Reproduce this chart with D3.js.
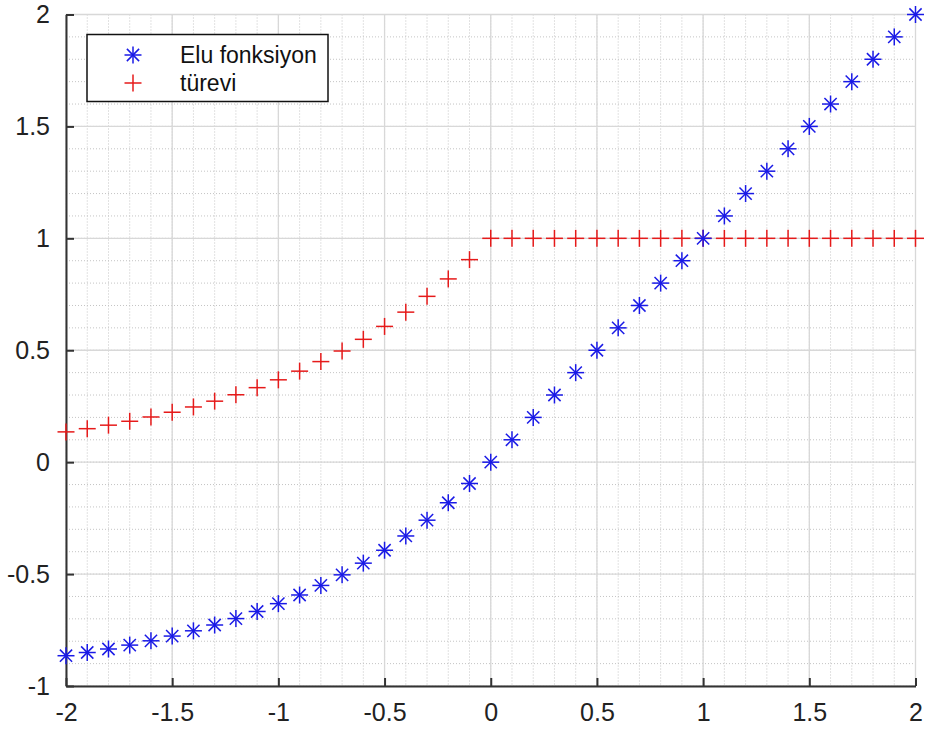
<!DOCTYPE html>
<html><head><meta charset="utf-8">
<script src="https://cdn.jsdelivr.net/npm/d3@7"></script>
<style>body{margin:0;background:#fff;}svg{display:block;}</style>
</head><body>
<svg id="chart" width="928" height="733"></svg>
<script>
const xValues = [-2,-1.9,-1.8,-1.7,-1.6,-1.5,-1.4,-1.3,-1.2,-1.1,-1,-0.9,-0.8,-0.7,-0.6,-0.5,-0.4,-0.3,-0.2,-0.1,0,0.1,0.2,0.3,0.4,0.5,0.6,0.7,0.8,0.9,1,1.1,1.2,1.3,1.4,1.5,1.6,1.7,1.8,1.9,2];
const eluValues = [-0.8647,-0.8504,-0.8347,-0.8173,-0.7981,-0.7769,-0.7534,-0.7275,-0.6988,-0.6671,-0.6321,-0.5934,-0.5507,-0.5034,-0.4512,-0.3935,-0.3297,-0.2592,-0.1813,-0.0952,0,0.1,0.2,0.3,0.4,0.5,0.6,0.7,0.8,0.9,1,1.1,1.2,1.3,1.4,1.5,1.6,1.7,1.8,1.9,2];
const derivValues = [0.1353,0.1496,0.1653,0.1827,0.2019,0.2231,0.2466,0.2725,0.3012,0.3329,0.3679,0.4066,0.4493,0.4966,0.5488,0.6065,0.6703,0.7408,0.8187,0.9048,1,1,1,1,1,1,1,1,1,1,1,1,1,1,1,1,1,1,1,1,1];
const xTicks = [-2,-1.5,-1,-0.5,0,0.5,1,1.5,2];
const yTicks = [-1,-0.5,0,0.5,1,1.5,2];
const seriesNames = ["Elu fonksiyon","türevi"];

const svg = d3.select("#chart");
const L = 66, R = 915.5, T = 14.5, B = 686;
const x = d3.scaleLinear().domain([-2,2]).range([L,R]);
const y = d3.scaleLinear().domain([-1,2]).range([B,T]);

const minorX = d3.range(-20,21).map(d=>d/10);
const minorY = d3.range(-10,21).map(d=>d/10);

const g = svg.append("g");
g.selectAll(".mx").data(minorX).join("line")
  .attr("x1",d=>x(d)).attr("x2",d=>x(d)).attr("y1",T).attr("y2",B)
  .attr("stroke","#c4c4c4").attr("stroke-width",1).attr("stroke-dasharray","1,2");
g.selectAll(".my").data(minorY).join("line")
  .attr("y1",d=>y(d)).attr("y2",d=>y(d)).attr("x1",L).attr("x2",R)
  .attr("stroke","#c4c4c4").attr("stroke-width",1).attr("stroke-dasharray","1,2");
g.selectAll(".Mx").data(xTicks).join("line")
  .attr("x1",d=>x(d)).attr("x2",d=>x(d)).attr("y1",T).attr("y2",B)
  .attr("stroke","#d8d8d8").attr("stroke-width",1.3);
g.selectAll(".My").data(yTicks).join("line")
  .attr("y1",d=>y(d)).attr("y2",d=>y(d)).attr("x1",L).attr("x2",R)
  .attr("stroke","#d8d8d8").attr("stroke-width",1.3);

const fmt = d=>d3.format("")(d).replace("−","-");
const xAxis = d3.axisBottom(x).tickValues(xTicks).tickSizeInner(-8).tickSizeOuter(0).tickPadding(17).tickFormat(fmt);
const yAxis = d3.axisLeft(y).tickValues(yTicks).tickSizeInner(-8).tickSizeOuter(0).tickPadding(16).tickFormat(fmt);
const gx = svg.append("g").attr("transform",`translate(0,${B})`).call(xAxis);
const gy = svg.append("g").attr("transform",`translate(${L},0)`).call(yAxis);
[gx,gy].forEach(a=>{
  a.attr("font-size",null).attr("font-family",null);
  a.select(".domain").attr("stroke","#333").attr("stroke-width",2);
  a.selectAll(".tick line").attr("stroke","#333").attr("stroke-width",2);
  a.selectAll("text").attr("fill","#222").attr("font-family","'Liberation Sans',Arial,sans-serif").attr("font-size","25px");
});
gx.selectAll("text").attr("dy","0.71em");

function asterisk(sel, r, color){
  sel.append("line").attr("x1",-r).attr("x2",r).attr("y1",0).attr("y2",0);
  sel.append("line").attr("x1",0).attr("x2",0).attr("y1",-r).attr("y2",r);
  const k = r*0.72;
  sel.append("line").attr("x1",-k).attr("x2",k).attr("y1",-k).attr("y2",k);
  sel.append("line").attr("x1",-k).attr("x2",k).attr("y1",k).attr("y2",-k);
  sel.attr("stroke",color).attr("stroke-width",1.5);
}
function plus(sel, r, color){
  sel.append("line").attr("x1",-r).attr("x2",r).attr("y1",0).attr("y2",0);
  sel.append("line").attr("x1",0).attr("x2",0).attr("y1",-r).attr("y2",r);
  sel.attr("stroke",color).attr("stroke-width",1.5);
}
const blue = "#1a1ae6", red = "#e61a1a";
const eluData = xValues.map((d,i)=>({x:d,y:eluValues[i]}));
const derData = xValues.map((d,i)=>({x:d,y:derivValues[i]}));
svg.append("g").selectAll("g").data(derData).join("g")
  .attr("transform",d=>`translate(${x(d.x)},${y(d.y)})`).each(function(){plus(d3.select(this),8.5,red);});
svg.append("g").selectAll("g").data(eluData).join("g")
  .attr("transform",d=>`translate(${x(d.x)},${y(d.y)})`).each(function(){asterisk(d3.select(this),8.5,blue);});

const lg = svg.append("g");
lg.append("rect").attr("x",87).attr("y",34.5).attr("width",241).attr("height",67)
  .attr("fill","#fff").attr("stroke","#111").attr("stroke-width",1.5);
const m1 = lg.append("g").attr("transform","translate(133,55)"); asterisk(m1,8.5,blue);
const m2 = lg.append("g").attr("transform","translate(133,83)"); plus(m2,8.5,red);
lg.selectAll("text").data(seriesNames).join("text")
  .attr("x",180).attr("y",(d,i)=>55+28*i).attr("dy","0.35em")
  .attr("font-family","'Liberation Sans',Arial,sans-serif").attr("font-size","23px").attr("fill","#111")
  .text(d=>d);
</script>
</body></html>
